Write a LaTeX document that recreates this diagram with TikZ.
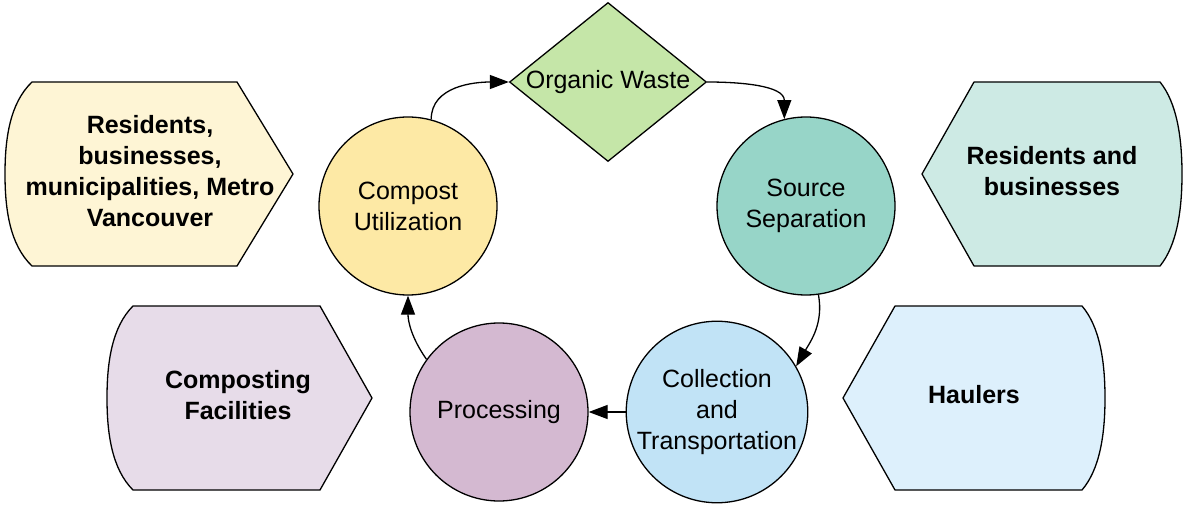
\documentclass[tikz,border=0pt]{standalone}
\usepackage{fontspec}
\setmainfont{Liberation Sans}
\usetikzlibrary{shapes.geometric,arrows.meta}
\definecolor{aone}{HTML}{FEF5D5}
\definecolor{atwo}{HTML}{E7DCE9}
\definecolor{athree}{HTML}{CDEAE4}
\definecolor{afour}{HTML}{DDF0FC}
\definecolor{owfill}{HTML}{C5E6A8}
\definecolor{cufill}{HTML}{FDE9A5}
\definecolor{ssfill}{HTML}{97D5C8}
\definecolor{ctfill}{HTML}{C1E3F6}
\definecolor{prfill}{HTML}{D4B9D1}
\begin{document}
\begin{tikzpicture}[x=1pt,y=1pt,
  stage/.style={circle,draw=black,line width=1.3pt,minimum size=178pt,inner sep=0pt,align=center,font=\fontsize{25}{31}\selectfont},
  actor/.style={draw=black,line width=1.3pt,line join=round},
  actortext/.style={align=center,inner sep=0pt,font=\fontsize{25}{31}\selectfont\bfseries},
  flow/.style={line width=1.3pt,-{Triangle[length=19pt,width=14pt]}}]
\useasboundingbox (0,0) rectangle (1186,-505);
% side shapes
\draw[actor,fill=aone] (32,-82) -- (237,-82) -- (293,-174) -- (237,-266) -- (32,-266)
  .. controls (10,-245) and (5,-210) .. (5,-174) .. controls (5,-138) and (10,-103) .. (32,-82) -- cycle;
\draw[actor,fill=atwo] (133,-306) -- (320,-306) -- (372,-398) -- (320,-490) -- (133,-490)
  .. controls (112,-469) and (107,-434) .. (107,-398) .. controls (107,-362) and (112,-327) .. (133,-306) -- cycle;
\draw[actor,fill=athree] (974,-82) -- (1160,-82)
  .. controls (1177,-103) and (1182,-138) .. (1182,-174) .. controls (1182,-210) and (1177,-245) .. (1160,-266)
  -- (974,-266) -- (922,-174) -- cycle;
\draw[actor,fill=afour] (895,-306) -- (1082,-306)
  .. controls (1100,-327) and (1105,-362) .. (1105,-398) .. controls (1105,-434) and (1100,-469) .. (1082,-490)
  -- (895,-490) -- (843,-398) -- cycle;
\node[actortext] (a1) at (150,-171) {Residents,\\businesses,\\municipalities, Metro\\Vancouver};
\node[actortext] (a2) at (238,-395) {Composting\\Facilities};
\node[actortext] (a3) at (1052,-171) {Residents and\\businesses};
\node[actortext] (a4) at (974,-395) {Haulers};
% cycle
\node[diamond,draw=black,line width=1.3pt,fill=owfill,shape aspect=1.24,minimum width=197pt,minimum height=159pt,inner sep=0pt,font=\fontsize{25}{31}\selectfont] (ow) at (608,-82) {\makebox[0pt]{Organic Waste}};
\node[stage,fill=cufill] (cu) at (408,-206) {Compost\\Utilization};
\node[stage,fill=ssfill] (ss) at (806,-206) {Source\\Separation};
\node[stage,fill=ctfill] (ct) at (717,-412) {Collection\\and\\Transportation};
\node[stage,fill=prfill] (pr) at (499,-412) {Processing};
\draw[flow] (cu.75) to[out=90,in=180] (ow.west);
\draw[flow] (ow.east) to[out=0,in=90] (ss.104);
\draw[flow] (ss.-82) to[out=-80,in=60] (ct.30);
\draw[flow] (ct.west) -- (pr.east);
\draw[flow] (pr.144) to[out=125,in=-90] (cu.south);
\end{tikzpicture}
\end{document}
